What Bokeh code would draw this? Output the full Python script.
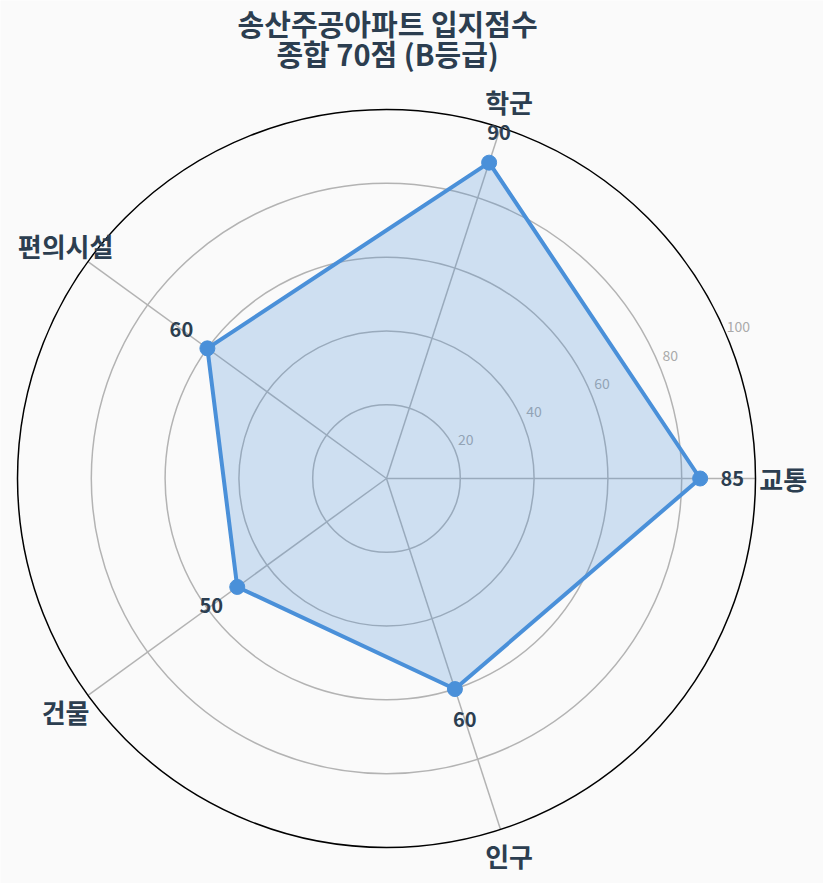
import numpy as np
from bokeh.plotting import figure
from bokeh.models import Range1d
from bokeh.embed import file_html
from bokeh.resources import INLINE
from bokeh.core.properties import value

# ---- data ----
categories = ["교통", "학군", "편의시설", "건물", "인구"]
scores = [85, 90, 60, 50, 60]
grid_levels = [20, 40, 60, 80]
tick_values = [20, 40, 60, 80, 100]
tick_labels = ["20", "40", "60", "80", "100"]
max_value = 100
title_lines = ["송산주공아파트 입지점수", "종합 70점 (B등급)"]

# ---- styling ----
FONT = "Noto Sans CJK KR"
TEXT_COLOR = "#2c3e50"
LINE_COLOR = "#4a90d9"
GRID_COLOR = "#b3b3b3"
BG = "#fafafa"

W, H = 823, 883
S = 3.69            # px per unit
CX, CY = 386, 478   # centre in plot px (from left / top)

p = figure(width=W, height=H, output_backend="svg", toolbar_location=None,
           x_range=Range1d(-CX / S, (W - CX) / S),
           y_range=Range1d(-(H - CY) / S, CY / S),
           x_axis_type=None, y_axis_type=None, min_border=0,
           background_fill_color=BG, border_fill_color=BG,
           outline_line_color=None)
p.grid.visible = False

n = len(categories)
theta = np.array([2 * np.pi * k / n for k in range(n)])
cos_t, sin_t = np.cos(theta), np.sin(theta)

# grid circles
p.circle(x=[0] * len(grid_levels), y=[0] * len(grid_levels), radius=grid_levels,
         fill_color=None, line_color=GRID_COLOR, line_width=1.5)

# spokes
p.segment(x0=[0] * n, y0=[0] * n, x1=list(max_value * cos_t), y1=list(max_value * sin_t),
          line_color=GRID_COLOR, line_width=1.5)

# outer circle
p.circle(x=[0], y=[0], radius=[max_value], fill_color=None,
         line_color="#000000", line_width=1.5)

# radial tick labels
ta = np.deg2rad(22.5)
tv = np.array(tick_values, dtype=float)
p.text(x=list(tv * np.cos(ta) + 3.0), y=list(tv * np.sin(ta) + 2.8), text=tick_labels,
       text_font=value(FONT), text_font_size="14px", text_color="#aaaaaa",
       text_align="center", text_baseline="middle")

# data polygon
sc = np.array(scores, dtype=float)
px = sc * cos_t
py = sc * sin_t
p.patch(x=list(px), y=list(py), fill_color=LINE_COLOR, fill_alpha=0.25, line_color=None)
p.line(x=list(px) + [px[0]], y=list(py) + [py[0]], line_color=LINE_COLOR,
       line_width=4, line_join="round")
p.scatter(x=list(px), y=list(py), size=15, fill_color=LINE_COLOR, line_color=LINE_COLOR)

# value labels
vr = sc + 8.7
p.text(x=list(vr * cos_t), y=list(vr * sin_t), text=[str(v) for v in scores],
       text_font=value(FONT), text_font_size="20px", text_font_style="bold",
       text_color=TEXT_COLOR, text_align="center", text_baseline="middle")

# category labels
cr = 107.5
p.text(x=list(cr * cos_t), y=list(cr * sin_t), text=categories,
       text_font=value(FONT), text_font_size="26px", text_font_style="bold",
       text_color=TEXT_COLOR, text_align="center", text_baseline="middle")

# title
p.text(x=[0.3, 0.3], y=[(CY - 22) / S, (CY - 52) / S], text=title_lines,
       text_font=value(FONT), text_font_size="29px", text_font_style="bold",
       text_color=TEXT_COLOR, text_align="center", text_baseline="middle")

open("out.html", "w").write(file_html(p, INLINE))
